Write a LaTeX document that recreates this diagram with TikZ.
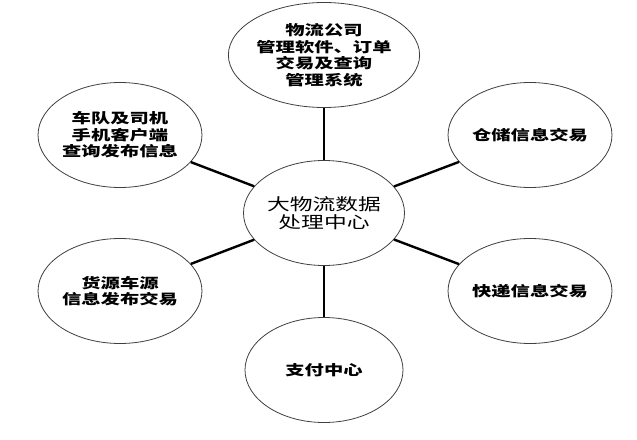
\documentclass[tikz,border=0pt]{standalone}
\usepackage{fontspec}
\newfontfamily\cjk[FakeStretch=1.38]{Noto Sans CJK SC}
\usetikzlibrary{shapes.geometric}
\tikzset{
  bubble/.style={ellipse, draw=black!75, line width=0.8pt, minimum width=158pt, minimum height=105pt, inner sep=0pt, align=center, font=\cjk\bfseries\fontsize{14}{16.5}\selectfont},
  hub/.style={bubble, font=\cjk\fontsize{16.5}{18}\selectfont},
  link/.style={draw=black, line width=2.4pt}
}
\begin{document}
\begin{tikzpicture}[x=1pt, y=-1pt]
\useasboundingbox[fill=white] (0,0) rectangle (637,439);
\node[hub]    (c)  at (324,213) {大物流数据\\处理中心};
\node[bubble] (t)  at (324,55)  {物流公司\\管理软件、订单\\交易及查询\\管理系统};
\node[bubble] (b)  at (324,370) {支付中心};
\node[bubble] (lt) at (120,135) {车队及司机\\手机客户端\\查询发布信息};
\node[bubble] (lb) at (120,291) {货源车源\\信息发布交易};
\node[bubble] (rt) at (530,135) {仓储信息交易};
\node[bubble] (rb) at (530,291) {快递信息交易};
\draw[link] (c) -- (t);
\draw[link] (c) -- (b);
\draw[link] (c) -- (lt);
\draw[link] (c) -- (lb);
\draw[link] (c) -- (rt);
\draw[link] (c) -- (rb);
\end{tikzpicture}
\end{document}
